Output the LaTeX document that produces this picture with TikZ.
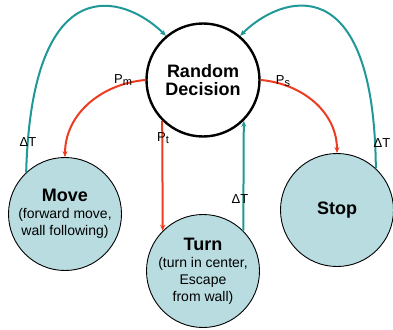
\documentclass[tikz,border=0pt]{standalone}
\usepackage{fontspec}
\setmainfont{Liberation Sans}
\usetikzlibrary{arrows.meta}
\definecolor{stfill}{RGB}{184,220,224}
\definecolor{tl}{RGB}{32,152,152}
\definecolor{rd}{RGB}{238,60,32}
\newcommand{\ttl}[1]{{\bfseries\fontsize{18}{21}\selectfont #1}}
\newcommand{\dT}{ΔT}
\newcommand{\sub}[1]{\raisebox{-2.5pt}{\fontsize{11}{11}\selectfont #1}}
\begin{document}
\begin{tikzpicture}[x=1pt,y=-1pt,
   state/.style={circle,draw,line width=0.9pt,fill=stfill,minimum size=113pt,inner sep=0pt,
                 align=center,font=\fontsize{14}{17}\selectfont},
   pr/.style={line width=2pt,rd,-{Stealth[length=6pt,width=5pt]}},
   dt/.style={line width=2pt,tl,-{Stealth[length=6pt,width=5pt]}},
   lbl/.style={font=\fontsize{13}{15}\selectfont,inner sep=0pt}]
   \useasboundingbox (0,0) rectangle (393,329);
   \node[state,fill=white,line width=2.4pt] (dec) at (203,80) {\ttl{Random}\\[1pt]\ttl{Decision}};
   \node[state] (mv) at (65,214) {\ttl{Move}\\(forward move,\\wall following)};
   \node[state] (tn) at (203,271) {\ttl{Turn}\\(turn in center,\\Escape\\from wall)};
   \node[state] (sp) at (337,210) {\ttl{Stop}};
   \draw[pr] (dec.west) to[out=185,in=90] (mv.north);
   \draw[pr] (dec.-135) -- (tn.135);
   \draw[pr] (dec.east) to[out=-5,in=90] (sp.north);
   \draw[dt] (tn.45) -- (dec.-45);
   \draw[dt] (mv.133) .. controls (32,-35) and (125,-5) .. (dec.130);
   \draw[dt] (sp.47) .. controls (374,-35) and (281,-5) .. (dec.50);
   \node[lbl] (pm) at (123,80) {P\sub{m}};
   \node[lbl] (pt) at (163,138) {P\sub{t}};
   \node[lbl] (ps) at (283,81) {P\sub{s}};
   \node[lbl] (t1) at (28,142) {\dT};
   \node[lbl] (t2) at (240,199) {\dT};
   \node[lbl] (t3) at (382,143) {\dT};
\end{tikzpicture}
\end{document}
